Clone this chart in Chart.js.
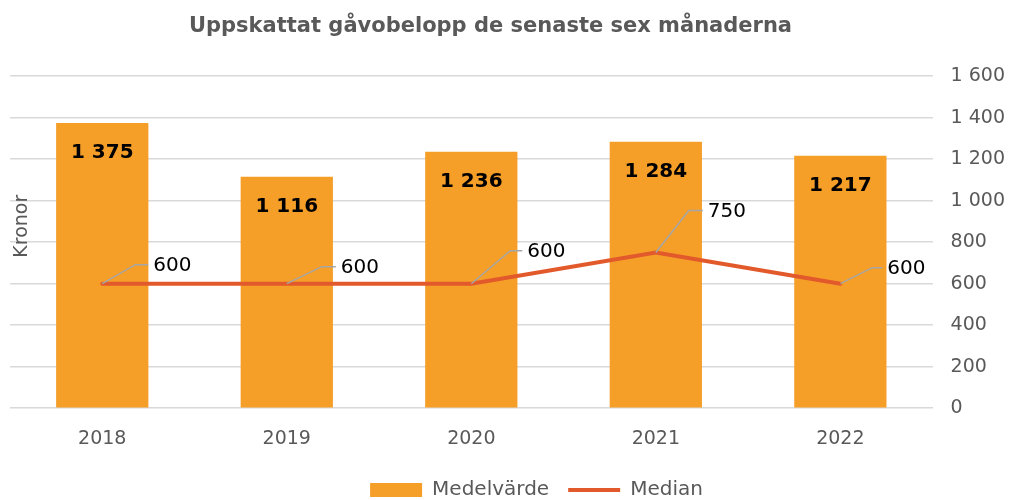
<!DOCTYPE html>
<html>
<head>
<meta charset="utf-8">
<script src="https://cdn.jsdelivr.net/npm/chart.js@4.4.1/dist/chart.umd.min.js"></script>
<style>
  html, body { margin: 0; padding: 0; background: #ffffff; }
  #wrap { width: 1018px; height: 500px; }
</style>
</head>
<body>
<div id="wrap"><canvas id="c" width="1018" height="500"></canvas></div>
<script>
// Gift amounts, kronor
const years = ['2018', '2019', '2020', '2021', '2022'];
const meanValues = [1375, 1116, 1236, 1284, 1217];
const medianValues = [600, 600, 600, 750, 600];
const yTicks = [0, 200, 400, 600, 800, 1000, 1200, 1400, 1600];

// Leader line geometry for the median labels: [dx, rise, horizontal run]
const leaderOffsets = [[33, 19, 13], [35, 17, 14], [39, 33, 12], [33, 42, 14], [32, 16, 10]];

const FONT = '"DejaVu Sans", Verdana, sans-serif';
const GREY = '#595959';

function formatSv(v) {
  return String(v).replace(/\B(?=(\d{3})+(?!\d))/g, ' ');
}

const labelPlugin = {
  id: 'valueLabels',
  afterLayout(chart) {
    // nudge title left and legend right
    const t = chart.titleBlock;
    if (t) { t.left -= 26; t.right -= 26; }
    const l = chart.legend;
    if (l) { l.left += 20; l.right += 20; }
  },
  afterDatasetsDraw(chart) {
    const ctx = chart.ctx;
    ctx.save();
    // bar values, inside the top of each bar
    const barMeta = chart.getDatasetMeta(0);
    ctx.font = 'bold 20px ' + FONT;
    ctx.fillStyle = '#000000';
    ctx.textAlign = 'center';
    ctx.textBaseline = 'middle';
    barMeta.data.forEach((bar, i) => {
      ctx.fillText(formatSv(meanValues[i]), bar.x, bar.y + 30);
    });
    // median values with leader lines
    const lineMeta = chart.getDatasetMeta(1);
    ctx.font = '20px ' + FONT;
    ctx.textAlign = 'left';
    lineMeta.data.forEach((pt, i) => {
      const [dx, rise, run] = leaderOffsets[i];
      ctx.strokeStyle = '#a6a6a6';
      ctx.lineWidth = 1.5;
      ctx.beginPath();
      ctx.moveTo(pt.x, pt.y);
      ctx.lineTo(pt.x + dx, pt.y - rise);
      ctx.lineTo(pt.x + dx + run, pt.y - rise);
      ctx.stroke();
      ctx.fillStyle = '#000000';
      ctx.fillText(formatSv(medianValues[i]), pt.x + dx + run + 5, pt.y - rise + 1);
    });
    ctx.restore();
  },
  afterDraw(chart) {
    const ctx = chart.ctx;
    const area = chart.chartArea;
    ctx.save();
    ctx.translate(22, (area.top + area.bottom) / 2 - 16);
    ctx.rotate(-Math.PI / 2);
    ctx.font = '19px ' + FONT;
    ctx.fillStyle = GREY;
    ctx.textAlign = 'center';
    ctx.textBaseline = 'middle';
    ctx.fillText('Kronor', 0, 0);
    ctx.restore();
  }
};

new Chart(document.getElementById('c'), {
  type: 'bar',
  data: {
    labels: years,
    datasets: [
      {
        type: 'bar',
        label: 'Medelvärde',
        data: meanValues,
        backgroundColor: '#F59E28',
        borderWidth: 0,
        barPercentage: 0.5,
        categoryPercentage: 1.0,
        order: 1
      },
      {
        type: 'line',
        label: 'Median',
        data: medianValues,
        borderColor: '#E25A2C',
        backgroundColor: '#E25A2C',
        borderWidth: 4,
        borderCapStyle: 'round',
        pointRadius: 0,
        tension: 0,
        order: 0
      }
    ]
  },
  options: {
    responsive: false,
    animation: false,
    layout: { padding: { left: 10, right: -5, top: 0, bottom: -10 } },
    plugins: {
      title: {
        display: true,
        text: 'Uppskattat gåvobelopp de senaste sex månaderna',
        color: GREY,
        font: { family: FONT, size: 21, weight: 'bold' },
        padding: { top: 14, bottom: 37 }
      },
      legend: {
        position: 'bottom',
        labels: {
          color: GREY,
          font: { family: FONT, size: 20 },
          usePointStyle: true,
          pointStyleWidth: 52,
          boxHeight: 14,
          padding: 19,
          sort: (a, b) => a.datasetIndex - b.datasetIndex,
          generateLabels(chart) {
            const items = Chart.defaults.plugins.legend.labels.generateLabels(chart);
            items.forEach(it => {
              it.pointStyle = it.datasetIndex === 0 ? 'rect' : 'line';
              if (it.datasetIndex === 0) it.lineWidth = 0;
            });
            return items;
          }
        }
      },
      tooltip: { enabled: false }
    },
    scales: {
      x: {
        grid: { display: false },
        border: { display: false },
        ticks: { color: GREY, font: { family: FONT, size: 19 }, padding: 11 }
      },
      y: {
        position: 'right',
        min: 0,
        max: 1600,
        afterBuildTicks(scale) { scale.ticks = yTicks.map(v => ({ value: v })); },
        grid: { color: '#d9d9d9', lineWidth: 1.5, drawTicks: false },
        border: { display: false },
        ticks: {
          color: GREY,
          font: { family: FONT, size: 19 },
          padding: 18,
          callback: v => formatSv(v)
        }
      }
    }
  },
  plugins: [labelPlugin]
});
</script>
</body>
</html>
